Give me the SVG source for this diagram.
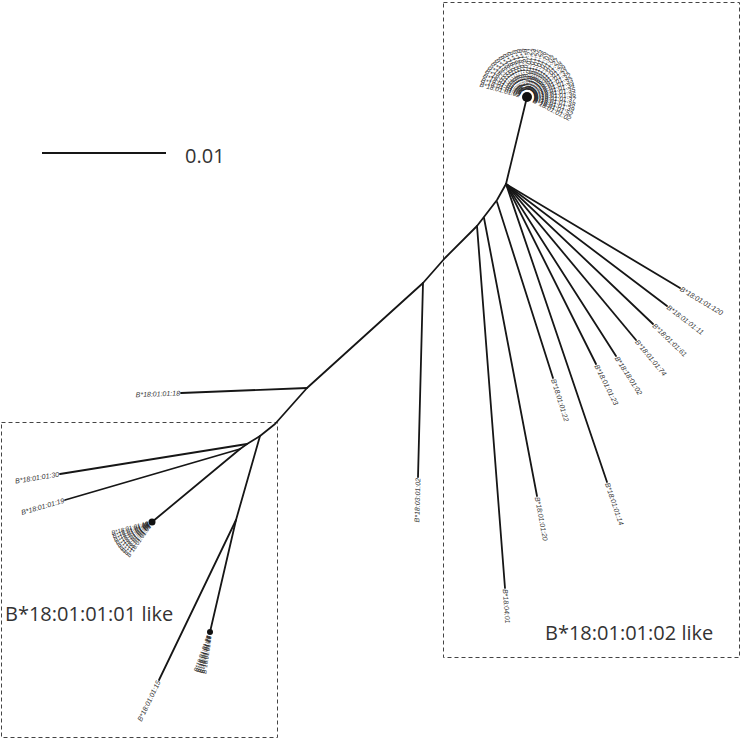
<svg xmlns="http://www.w3.org/2000/svg" width="751" height="739" viewBox="0 0 751 739">
<style>
.br{fill:none;stroke:#161616;stroke-width:1.8;stroke-linecap:round;stroke-linejoin:round}
.box{fill:none;stroke:#444;stroke-width:1;stroke-dasharray:4 3}
.lb{font-family:"Liberation Sans",Arial,sans-serif;font-size:7px;font-style:italic;fill:#333}
.cl{font-family:"Liberation Sans",Arial,sans-serif;font-size:6.6px;font-style:italic;fill:#2a2a2a}
.cs{font-family:"Liberation Sans",Arial,sans-serif;font-size:6px;font-style:italic;fill:#2a2a2a}
.big{font-family:"Open Sans","Liberation Sans",sans-serif;font-size:20px;fill:#333}
.e{text-anchor:end}
</style>
<rect width="751" height="739" fill="#fff"/>
<g id="boxes">
<rect class="box" x="443.5" y="2.5" width="296" height="655"/>
<rect class="box" x="1.5" y="422.5" width="276" height="315"/>
</g>
<g id="scale">
<line x1="42" y1="153" x2="166" y2="153" stroke="#161616" stroke-width="2"/>
<text class="big" x="185" y="163" font-size="21" fill="#444">0.01</text>
</g>
<g id="connectors">
<polyline class="br" points="527,97 506,184 497,200 477,226 445,258 423,283 307,388 275,424 260,436 247,444 240,449 152,522"/>
<polyline class="br" points="307,388 181,393"/>
<polyline class="br" points="247,444 60,474"/>
<polyline class="br" points="240,449 65,500"/>
<polyline class="br" points="260,436 236,520 210,632"/>
<polyline class="br" points="236,520 159,680"/>
<polyline class="br" points="423,283 418,477"/>
<polyline class="br" points="477,226 505,588"/>
<polyline class="br" points="484,218 537,496"/>
<polyline class="br" points="497,202 553,378"/>
<polyline class="br" points="506,184 680,288"/>
<polyline class="br" points="506,184 667,306"/>
<polyline class="br" points="506,184 653,324"/>
<polyline class="br" points="506,184 636,340"/>
<polyline class="br" points="506,184 616,356"/>
<polyline class="br" points="506,184 596,364"/>
<polyline class="br" points="506,184 607,482"/>
</g>
<g id="n120"><text class="lb" transform="translate(680,288) rotate(30.9)" x="1" dy="0.35em">B*18:01:01:120</text></g>
<g id="n11"><text class="lb" transform="translate(667,306) rotate(37.2)" x="1" dy="0.35em">B*18:01:01:11</text></g>
<g id="n61"><text class="lb" transform="translate(653,324) rotate(43.6)" x="1" dy="0.35em">B*18:01:01:61</text></g>
<g id="n74"><text class="lb" transform="translate(636,340) rotate(50.2)" x="1" dy="0.35em">B*18:01:01:74</text></g>
<g id="n0102"><text class="lb" transform="translate(616,356) rotate(57.4)" x="1" dy="0.35em">B*18:18:01:02</text></g>
<g id="n23"><text class="lb" transform="translate(596,364) rotate(63.4)" x="1" dy="0.35em">B*18:01:01:23</text></g>
<g id="n14"><text class="lb" transform="translate(607,482) rotate(71.3)" x="1" dy="0.35em">B*18:01:01:14</text></g>
<g id="n22"><text class="lb" transform="translate(553,378) rotate(72.3)" x="1" dy="0.35em">B*18:01:01:22</text></g>
<g id="n20"><text class="lb" transform="translate(537,496) rotate(79.2)" x="1" dy="0.35em">B*18:01:01:20</text></g>
<g id="n0401"><text class="lb" transform="translate(505,588) rotate(85.6)" x="1" dy="0.35em">B*18:04:01</text></g>
<g id="n030102"><text class="lb e" transform="translate(418,477) rotate(-88.5)" x="-1" dy="0.35em">B*18:03:01:02</text></g>
<g id="n18"><text class="lb e" transform="translate(181,393) rotate(-2.3)" x="-1" dy="0.35em">B*18:01:01:18</text></g>
<g id="n30"><text class="lb e" transform="translate(60,474) rotate(-9.1)" x="-1" dy="0.35em">B*18:01:01:30</text></g>
<g id="n19"><text class="lb e" transform="translate(65,500) rotate(-16.2)" x="-1" dy="0.35em">B*18:01:01:19</text></g>
<g id="n15"><text class="lb e" transform="translate(159,680) rotate(-64.3)" x="-1" dy="0.35em">B*18:01:01:15</text></g>
<g id="cluster02">
<circle cx="527" cy="97" r="5" fill="#111"/>
<g transform="translate(527,97)">
<text class="cl e" transform="rotate(15)" x="-7" dy="0.35em">B*18:01:01:02</text>
<text class="cl e" transform="rotate(21)" x="-7" dy="0.35em">B*18:01:01:03</text>
<text class="cl e" transform="rotate(27)" x="-7" dy="0.35em">B*18:01:01:04</text>
<text class="cl e" transform="rotate(33)" x="-7" dy="0.35em">B*18:01:01:05</text>
<text class="cl e" transform="rotate(39)" x="-7" dy="0.35em">B*18:01:01:06</text>
<text class="cl e" transform="rotate(45)" x="-7" dy="0.35em">B*18:01:01:07</text>
<text class="cl e" transform="rotate(51)" x="-7" dy="0.35em">B*18:01:01:08</text>
<text class="cl e" transform="rotate(57)" x="-7" dy="0.35em">B*18:01:01:09</text>
<text class="cl e" transform="rotate(63)" x="-7" dy="0.35em">B*18:01:01:10</text>
<text class="cl e" transform="rotate(69)" x="-7" dy="0.35em">B*18:01:01:12</text>
<text class="cl e" transform="rotate(75)" x="-7" dy="0.35em">B*18:01:01:13</text>
<text class="cl e" transform="rotate(81)" x="-7" dy="0.35em">B*18:01:01:16</text>
<text class="cl e" transform="rotate(87)" x="-7" dy="0.35em">B*18:01:01:17</text>
<text class="cl" transform="rotate(-87)" x="7" dy="0.35em">B*18:01:01:21</text>
<text class="cl" transform="rotate(-81)" x="7" dy="0.35em">B*18:01:01:24</text>
<text class="cl" transform="rotate(-75)" x="7" dy="0.35em">B*18:01:01:25</text>
<text class="cl" transform="rotate(-69)" x="7" dy="0.35em">B*18:01:01:26</text>
<text class="cl" transform="rotate(-63)" x="7" dy="0.35em">B*18:01:01:01</text>
<text class="cl" transform="rotate(-57)" x="7" dy="0.35em">B*18:01:01:02</text>
<text class="cl" transform="rotate(-51)" x="7" dy="0.35em">B*18:01:01:27</text>
<text class="cl" transform="rotate(-45)" x="7" dy="0.35em">B*18:01:01:28</text>
<text class="cl" transform="rotate(-39)" x="7" dy="0.35em">B*18:01:01:29</text>
<text class="cl" transform="rotate(-33)" x="7" dy="0.35em">B*18:01:01:31</text>
<text class="cl" transform="rotate(-27)" x="7" dy="0.35em">B*18:01:01:32</text>
<text class="cl" transform="rotate(-21)" x="7" dy="0.35em">B*18:01:01:33</text>
<text class="cl" transform="rotate(-15)" x="7" dy="0.35em">B*18:01:01:34</text>
<text class="cl" transform="rotate(-9)" x="7" dy="0.35em">B*18:01:01:35</text>
<text class="cl" transform="rotate(-3)" x="7" dy="0.35em">B*18:01:01:36</text>
<text class="cl" transform="rotate(3)" x="7" dy="0.35em">B*18:01:01:37</text>
<text class="cl" transform="rotate(9)" x="7" dy="0.35em">B*18:01:01:38</text>
<text class="cl" transform="rotate(15)" x="7" dy="0.35em">B*18:01:01:39</text>
<text class="cl" transform="rotate(21)" x="7" dy="0.35em">B*18:01:01:52</text>
<text class="cl" transform="rotate(27)" x="7" dy="0.35em">B*18:01:01:02</text>
</g>
</g>
<g id="cluster01">
<circle cx="152" cy="522" r="3.5" fill="#111"/>
<g transform="translate(152,522)">
<text class="cs e" transform="rotate(-55)" x="-4" dy="0.35em">B*18:01:01:01</text>
<text class="cs e" transform="rotate(-50)" x="-4" dy="0.35em">B*18:01:01:03</text>
<text class="cs e" transform="rotate(-45)" x="-4" dy="0.35em">B*18:01:01:04</text>
<text class="cs e" transform="rotate(-40)" x="-4" dy="0.35em">B*18:01:01:05</text>
<text class="cs e" transform="rotate(-35)" x="-4" dy="0.35em">B*18:01:01:06</text>
<text class="cs e" transform="rotate(-30)" x="-4" dy="0.35em">B*18:01:01:07</text>
<text class="cs e" transform="rotate(-25)" x="-4" dy="0.35em">B*18:01:01:08</text>
<text class="cs e" transform="rotate(-20)" x="-4" dy="0.35em">B*18:01:01:09</text>
<text class="cs e" transform="rotate(-15)" x="-4" dy="0.35em">B*18:01:01:10</text>
</g>
</g>
<g id="cluster03">
<circle cx="210" cy="632" r="3" fill="#111"/>
<g transform="translate(210,632)">
<text class="cs e" transform="rotate(-82)" x="-4" dy="0.35em">B*18:01:01:16</text>
<text class="cs e" transform="rotate(-79)" x="-4" dy="0.35em">B*18:01:01:17</text>
<text class="cs e" transform="rotate(-76)" x="-4" dy="0.35em">B*18:01:01:21</text>
<text class="cs e" transform="rotate(-73)" x="-4" dy="0.35em">B*18:01:01:24</text>
<text class="cs e" transform="rotate(-70)" x="-4" dy="0.35em">B*18:01:01:25</text>
</g>
</g>
<g id="label01like"><text class="big" x="5" y="621">B*18:01:01:01 like</text></g>
<g id="label02like"><text class="big" x="545" y="640">B*18:01:01:02 like</text></g>
</svg>
